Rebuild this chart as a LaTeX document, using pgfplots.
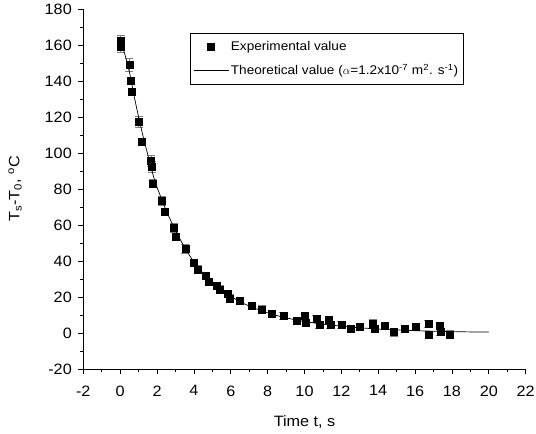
\documentclass[border=0pt]{standalone}
\usepackage{pgfplots}
\pgfplotsset{compat=1.18}
\usepackage{pgfplotstable}
\usepackage{fontspec}
\setmainfont[FakeStretch=1.08]{Liberation Sans}

\pgfplotsset{
  longline legend/.style={legend image code/.code={\draw[##1] (0pt,0pt) -- (35pt,0pt);}},
  centermark legend/.style={legend image code/.code={\draw[##1] plot coordinates {(17.5pt,0pt)};}},
}

\pgfplotstableread{
x y e
0.03 162.5 3
0.03 159.2 3
0.49 148.9 3.5
0.57 140.0 2
0.62 133.9 2
1.00 117.2 3
1.17 106.1 2
1.67 95.7 3
1.72 92.2 3
1.79 83.2 2
2.28 73.3 2.5
2.44 67.2 2
2.92 58.7 2.5
3.02 53.5 2
3.53 47.0 2.5
4.00 39.0 2
4.23 35.4 2
4.65 31.8 2
4.80 28.5 2
5.23 26.1 2
5.41 24.3 2
5.86 21.7 2
5.95 19.3 2
6.49 17.8 2
7.13 15.2 2
7.67 13.2 2
8.21 10.6 2
8.86 9.6 2
9.57 6.7 2
10.02 9.5 2
10.07 5.8 2
10.65 7.8 2
10.80 4.4 2
11.33 7.2 2
11.40 4.4 2
12.00 4.6 2
12.50 2.4 2
13.00 3.5 2
13.69 5.4 2
13.81 2.6 2
14.35 4.2 2
14.86 0.5 2
15.44 2.4 2
16.05 3.5 2
16.72 5.2 2
16.75 -0.8 2
17.33 4.2 2
17.37 0.7 2
17.88 -0.7 2
}\expdata

\pgfplotstableread{
x y
0 163
0.25 155
0.5 145
0.75 132
1 120
1.25 109
1.5 99
1.75 89
2 81
2.5 68
3 57
3.5 47.5
4 39.5
4.5 33.3
5 28.2
5.5 24
6 20.4
6.5 17.4
7 15
7.5 13
8 11.2
8.5 9.7
9 8.4
10 6.4
11 4.9
12 3.8
13 2.9
14 2.2
15 1.7
16 1.3
17 1.0
18 0.8
19 0.6
20 0.5
}\theodata

\begin{document}
\begin{tikzpicture}[font=\fontsize{15}{18}\selectfont]
\begin{axis}[
  scale only axis,
  width=442.4pt, height=360pt,
  xmin=-2, xmax=22, ymin=-20, ymax=180,
  axis x line*=bottom, axis y line*=left,
  xtick={-2,0,...,22}, ytick={-20,0,...,180},
  minor x tick num=1, minor y tick num=1,
  tick align=outside,
  major tick length=5pt, minor tick length=3pt,
  tick style={black, line width=0.7pt},
  axis line style={line width=0.7pt},
  /pgf/number format/assume math mode=true,
  xticklabel style={yshift=-8pt},
  yticklabel style={xshift=-3pt},
  xlabel={Time t, s},
  ylabel={T\textsubscript{s}-T\textsubscript{0}, \textsuperscript{o}C},
  xlabel style={at={(axis description cs:0.5,-0.161)}, anchor=base},
  ylabel style={at={(axis description cs:-0.154,0.5)}, anchor=center},
  legend style={at={(0.241,0.933)}, anchor=north west, draw=black, line width=0.6pt,
    font=\fontsize{12.6}{15}\selectfont, row sep=8pt, inner xsep=3pt, inner ysep=6pt},
  legend cell align=left,
  clip=false,
]
\coordinate (SW) at (rel axis cs:0,0);
\coordinate (NE) at (rel axis cs:1,1);
\addplot[only marks, mark=square*, mark size=3.5pt, black, centermark legend,
  error bars/.cd, y dir=both, y explicit,
  error bar style={gray, line width=0.5pt},
  error mark options={rotate=90, mark size=4pt, gray}]
  table[x=x, y=y, y error=e] {\expdata};
\addplot[black, line width=0.7pt, smooth, longline legend]
  table[x=x, y=y] {\theodata};
\legend{Experimental value, Theoretical value ($\alpha$=1.2x10\textsuperscript{-7} m\textsuperscript{2}. s\textsuperscript{-1})}
\end{axis}
\pgfresetboundingbox
\useasboundingbox ([shift={(-83.3pt,-64pt)}]SW) rectangle ([shift={(10.3pt,9pt)}]NE);
\end{tikzpicture}
\end{document}
